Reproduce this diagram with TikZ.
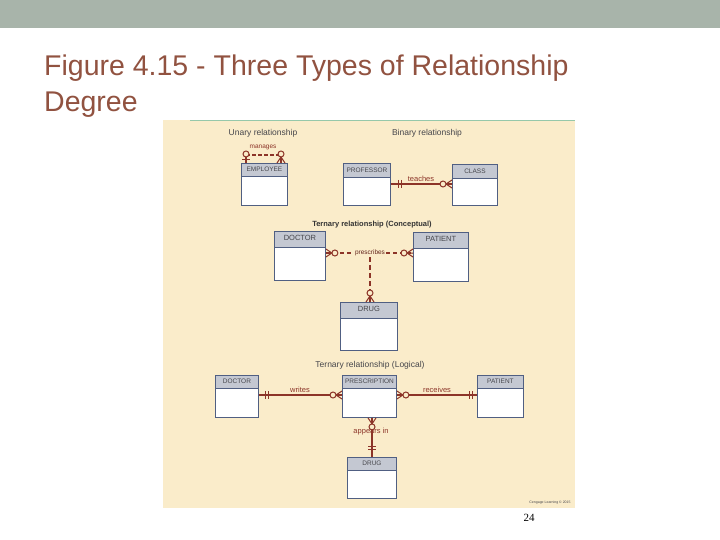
\documentclass[tikz,border=0pt]{standalone}
\usepackage{fontspec}
\setmainfont{Liberation Sans}
\newfontfamily\serifcm{Liberation Serif}
\definecolor{bar}{RGB}{168,180,170}
\definecolor{panel}{RGB}{250,236,202}
\definecolor{rel}{RGB}{140,52,40}
\definecolor{edge}{RGB}{80,95,130}
\definecolor{hdrc}{RGB}{196,200,210}
\definecolor{ttl}{RGB}{145,82,64}
\definecolor{txt}{RGB}{70,70,75}
\tikzset{
  ent/.style={draw=edge, line width=0.9pt, fill=white, anchor=north west, inner sep=0pt,
    path picture={\fill[hdrc] (path picture bounding box.north west) rectangle ([yshift=#1]path picture bounding box.north east);
      \draw[edge,line width=0.9pt] ([yshift=#1]path picture bounding box.north west) -- ([yshift=#1]path picture bounding box.north east);}},
  etext/.style={font=\fontsize{6.5}{7}\selectfont, text=txt, anchor=center, inner sep=1pt},
  rl/.style={draw=rel, line width=1.1pt},
  rtext/.style={font=\fontsize{7.5}{8}\selectfont, text=rel, inner sep=1pt},
  crow/.pic={\draw[rel,line width=1pt] (0,-4) -- (6,0) (0,4) -- (6,0) (0,0) -- (6,0);},
  circ/.pic={\draw[rel,line width=1pt,fill=panel] (0,0) circle (3);},
  onebar/.pic={\draw[rel,line width=1pt] (0,-4) -- (0,4);},
}
\begin{document}
\begin{tikzpicture}[x=1pt,y=-1pt]
\useasboundingbox (0,0) rectangle (720,540);
\fill[white] (0,0) rectangle (720,540);
\fill[bar] (0,0) rectangle (720,28);
\node[anchor=base west, text=ttl, font=\fontsize{28.5}{30}\selectfont, inner sep=0] (t1) at (44,76) {Figure 4.15 - Three Types of Relationship};
\node[anchor=base west, text=ttl, font=\fontsize{28.5}{30}\selectfont, inner sep=0] (t2) at (44,112) {Degree};
\fill[panel] (163,120) rectangle (575,508);
\draw[color={rgb,255:red,150;green,200;blue,170}, line width=1pt] (190,121) -- (575,121);
\node[rtext, text=txt, font=\fontsize{8.5}{9}\selectfont] (ul) at (263,133) {Unary relationship};
\node[rtext, text=txt, font=\fontsize{8.5}{9}\selectfont] (bl) at (427,133) {Binary relationship};
\node[rtext, text=black!80, font=\fontsize{7.5}{8}\selectfont\bfseries] (tc) at (372,225) {Ternary relationship (Conceptual)};
\node[rtext, text=txt, font=\fontsize{8.5}{9}\selectfont] (tl) at (370,365) {Ternary relationship (Logical)};
\node[font=\fontsize{3.5}{4}\selectfont, text=txt] (cr) at (550,503) {Cengage Learning © 2015};
\node[font=\serifcm\fontsize{11}{12}\selectfont] (pg) at (529,518) {24};
% entities
\node[ent=-13pt, minimum width=46, minimum height=42] (emp) at (241,163) {};
\node[etext] at ([yshift=-6.5pt]emp.north) {EMPLOYEE};
\node[ent=-14pt, minimum width=47, minimum height=42] (prof) at (343,163) {};
\node[etext] at ([yshift=-7pt]prof.north) {PROFESSOR};
\node[ent=-14pt, minimum width=45, minimum height=41] (cls) at (452,164) {};
\node[etext] at ([yshift=-7pt]cls.north) {CLASS};
\node[ent=-16pt, minimum width=51, minimum height=49] (doc1) at (274,231) {};
\node[etext, font=\fontsize{7.5}{8}\selectfont] at ([yshift=-7pt]doc1.north) {DOCTOR};
\node[ent=-16pt, minimum width=55, minimum height=49] (pat1) at (413,232) {};
\node[etext, font=\fontsize{7.5}{8}\selectfont] at ([yshift=-7pt]pat1.north) {PATIENT};
\node[ent=-16pt, minimum width=57, minimum height=48] (drug1) at (340,302) {};
\node[etext, font=\fontsize{7.5}{8}\selectfont] at ([yshift=-7pt]drug1.north) {DRUG};
\node[ent=-13pt, minimum width=43, minimum height=42] (doc2) at (215,375) {};
\node[etext] at ([yshift=-6.5pt]doc2.north) {DOCTOR};
\node[ent=-13pt, minimum width=54, minimum height=42] (pre) at (342,375) {};
\node[etext] at ([yshift=-6.5pt]pre.north) {PRESCRIPTION};
\node[ent=-13pt, minimum width=46, minimum height=42] (pat2) at (477,375) {};
\node[etext] at ([yshift=-6.5pt]pat2.north) {PATIENT};
\node[ent=-13pt, minimum width=49, minimum height=41] (drug2) at (347,457) {};
\node[etext] at ([yshift=-6.5pt]drug2.north) {DRUG};
% unary
\coordinate (ua) at (246,155);
\coordinate (ub) at (281,155);
\draw[rl, dashed, dash pattern=on 4pt off 2pt] (ua) -- (ub);
\draw[rl] (ua) -- (emp.north -| ua) (ub) -- (emp.north -| ub);
\path (emp.north -| ua) ++(0,-3) pic[rotate=90] {onebar};
\path (emp.north -| ua) ++(0,-9) pic {circ};
\pic[rotate=90] at (emp.north -| ub) {crow};
\path (emp.north -| ub) ++(0,-9) pic {circ};
\node[rtext, font=\fontsize{6.5}{7}\selectfont] (mg) at (263,147) {manages};
% binary
\draw[rl] (prof.east |- 0,184) -- (cls.west |- 0,184);
\path (prof.east |- 0,184) ++(8,0) pic {onebar} ++(3,0) pic {onebar};
\pic[rotate=180] at (cls.west |- 0,184) {crow};
\path (cls.west |- 0,184) ++(-9,0) pic {circ};
\node[rtext] (tch) at (421,179) {teaches};
% conceptual ternary
\node[rtext, font=\fontsize{6.5}{7}\selectfont, text=rel!70!black] (presc) at (370,253) {prescribes};
\draw[rl, dashed, dash pattern=on 4pt off 3pt] (doc1.east |- 0,253) -- (presc.west);
\draw[rl, dashed, dash pattern=on 4pt off 3pt] (presc.east) -- (pat1.west |- 0,253);
\draw[rl, dashed, dash pattern=on 5pt off 3pt] (presc.south) -- (drug1.north -| presc);
\pic[rotate=0] at (doc1.east |- 0,253) {crow};
\path (doc1.east |- 0,253) ++(9,0) pic {circ};
\pic[rotate=180] at (pat1.west |- 0,253) {crow};
\path (pat1.west |- 0,253) ++(-9,0) pic {circ};
\pic[rotate=90] at (drug1.north -| presc) {crow};
\path (drug1.north -| presc) ++(0,-9) pic {circ};
% logical ternary
\draw[rl] (doc2.east |- 0,395) -- (pre.west |- 0,395);
\path (doc2.east |- 0,395) ++(7,0) pic {onebar} ++(3,0) pic {onebar};
\pic[rotate=180] at (pre.west |- 0,395) {crow};
\path (pre.west |- 0,395) ++(-9,0) pic {circ};
\node[rtext] (wr) at (300,390) {writes};
\draw[rl] (pre.east |- 0,395) -- (pat2.west |- 0,395);
\pic[rotate=0] at (pre.east |- 0,395) {crow};
\path (pre.east |- 0,395) ++(9,0) pic {circ};
\path (pat2.west |- 0,395) ++(-8,0) pic {onebar} ++(3,0) pic {onebar};
\node[rtext] (rc) at (437,390) {receives};
\draw[rl] (pre.south -| 372,0) -- (drug2.north -| 372,0);
\pic[rotate=-90] at (pre.south -| 372,0) {crow};
\path (pre.south -| 372,0) ++(0,9) pic {circ};
\path (drug2.north -| 372,0) ++(0,-8) pic[rotate=90] {onebar} ++(0,-3) pic[rotate=90] {onebar};
\node[rtext] (ap) at (371,432) {appears in};
\end{tikzpicture}
\end{document}
